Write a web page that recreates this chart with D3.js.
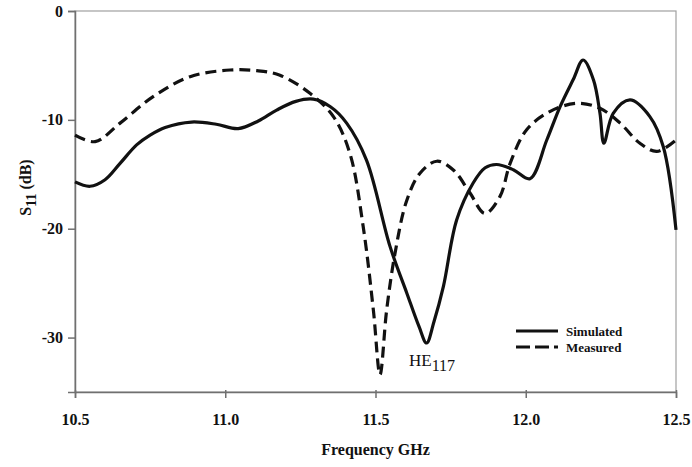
<!DOCTYPE html>
<html>
<head>
<meta charset="utf-8">
<script src="https://cdn.jsdelivr.net/npm/d3@7"></script>
<style>
    body { margin: 0; background: #fff; }
    text { font-family: "Liberation Serif", "Times New Roman", serif; }
</style>
</head>
<body>
<script>
//Data: frequency (GHz) and S11 (dB).
const simFreq = [10.5, 10.55, 10.6, 10.65, 10.705, 10.75, 10.8, 10.888, 10.97, 11.043, 11.11, 11.171, 11.235, 11.293, 11.35, 11.404, 11.47, 11.548, 11.604, 11.645, 11.67, 11.695, 11.726, 11.77, 11.825, 11.865, 11.903, 11.96, 12.014, 12.07, 12.114, 12.158, 12.191, 12.225, 12.247, 12.26, 12.291, 12.347, 12.413, 12.458, 12.5];
const simS11 = [-15.7, -16.1, -15.5, -14.0, -12.3, -11.4, -10.7, -10.2, -10.4, -10.8, -10.1, -9.1, -8.3, -8.1, -8.8, -10.3, -13.7, -21.6, -25.9, -29.0, -30.5, -28.5, -25.3, -19.2, -15.8, -14.4, -14.1, -14.6, -15.4, -11.85, -8.8, -6.3, -4.5, -6.3, -9.4, -12.15, -9.4, -8.17, -9.7, -12.5, -20.1];

const measFreq = [10.5, 10.567, 10.65, 10.76, 10.883, 11.016, 11.105, 11.182, 11.282, 11.36, 11.415, 11.459, 11.493, 11.515, 11.537, 11.565, 11.604, 11.648, 11.704, 11.759, 11.814, 11.864, 11.914, 11.948, 12.003, 12.08, 12.17, 12.247, 12.314, 12.38, 12.436, 12.5];
const measS11 = [-11.4, -12.0, -10.3, -7.87, -6.03, -5.42, -5.48, -5.9, -7.56, -9.7, -13.1, -19.8, -27.5, -33.4, -27.5, -22.25, -17.4, -14.9, -13.8, -14.6, -16.7, -18.6, -17.05, -14.0, -10.9, -9.24, -8.48, -8.94, -10.3, -12.15, -12.9, -11.85];

const xTicks = [10.5, 11.0, 11.5, 12.0, 12.5];
const yTicks = [0, -10, -20, -30];
const seriesNames = ["Simulated", "Measured"];

/* CONSTANTS */

const width = 692;
const height = 467;
const margin = {top: 11, left: 75, bottom: 75, right: 16};
const svg = d3.select("body").append("svg")
    .attr("width", width)
    .attr("height", height);

const x = d3.scaleLinear().domain([10.5, 12.5]).range([margin.left, width - margin.right]);
const y = d3.scaleLinear().domain([-35, 0]).range([height - margin.bottom, margin.top]);

const line = d3.line()
    .x((d) => x(d[0]))
    .y((d) => y(d[1]))
    .curve(d3.curveCatmullRom.alpha(0.5));

const simData = simFreq.map((f, i) => [f, simS11[i]]);
const measData = measFreq.map((f, i) => [f, measS11[i]]);

/* FRAME */

svg.append("rect")
    .attr("x", x(10.5))
    .attr("y", y(0))
    .attr("width", x(12.5) - x(10.5))
    .attr("height", y(-35) - y(0))
    .attr("fill", "none")
    .attr("stroke", "#a0a0a0")
    .attr("stroke-width", 1.2);

//Axes.
const xAxis = d3.axisBottom(x).tickValues(xTicks).tickFormat(d3.format(".1f")).tickSize(6).tickPadding(16);
const yAxis = d3.axisLeft(y).tickValues(yTicks).tickFormat((d) => d).tickSize(7).tickPadding(5);

const gx = svg.append("g")
    .attr("transform", `translate(0,${y(-35)})`)
    .call(xAxis);
gx.selectAll(".tick line").attr("y1", -2);

const gy = svg.append("g")
    .attr("transform", `translate(${x(10.5)},0)`)
    .call(yAxis);

[gx, gy].forEach((g) => {
    g.select(".domain").attr("stroke", "#707070").attr("stroke-width", 1.5);
    g.selectAll(".tick line").attr("stroke", "#707070").attr("stroke-width", 1.5);
    g.selectAll(".tick text")
        .attr("fill", "#111")
        .style("font-family", "'Liberation Serif', serif")
        .style("font-weight", "bold")
        .style("font-size", "16px");
});

/* CURVES */

svg.append("path")
    .datum(measData)
    .attr("fill", "none")
    .attr("stroke", "#111")
    .attr("stroke-width", 3.2)
    .attr("stroke-dasharray", "11,6")
    .attr("d", line);

svg.append("path")
    .datum(simData)
    .attr("fill", "none")
    .attr("stroke", "#111")
    .attr("stroke-width", 3.2)
    .attr("stroke-linejoin", "round")
    .attr("d", line);

/* LABELS */

svg.append("text")
    .attr("x", (x(10.5) + x(12.5)) / 2)
    .attr("y", 455)
    .attr("text-anchor", "middle")
    .style("font-weight", "bold")
    .style("font-size", "16px")
    .attr("fill", "#111")
    .text("Frequency GHz");

const yLabel = svg.append("text")
    .attr("transform", `translate(31,${(y(0) + y(-35)) / 2 - 14}) rotate(-90)`)
    .attr("text-anchor", "middle")
    .style("font-weight", "bold")
    .style("font-size", "16px")
    .attr("fill", "#111");
yLabel.append("tspan").text("S");
yLabel.append("tspan").attr("dy", 5).style("font-size", "14px").text("11");
yLabel.append("tspan").attr("dy", -5).text(" (dB)");

//Resonance annotation.
const note = svg.append("text")
    .attr("x", 409)
    .attr("y", 366)
    .style("font-size", "17px")
    .attr("fill", "#111");
note.append("tspan").text("HE");
note.append("tspan").attr("dy", 5).style("font-size", "16px").text("117");

//Legend.
const legend = svg.append("g").attr("transform", "translate(516,331)");
seriesNames.forEach((name, i) => {
    legend.append("line")
        .attr("x1", 0)
        .attr("x2", 42)
        .attr("y1", i * 16)
        .attr("y2", i * 16)
        .attr("stroke", "#111")
        .attr("stroke-width", 3.2)
        .attr("stroke-dasharray", i === 0 ? null : "14,5");
    legend.append("text")
        .attr("x", 50)
        .attr("y", i * 16 + 5)
        .style("font-weight", "bold")
        .style("font-size", "13px")
        .attr("fill", "#111")
        .text(name);
});
</script>
</body>
</html>
